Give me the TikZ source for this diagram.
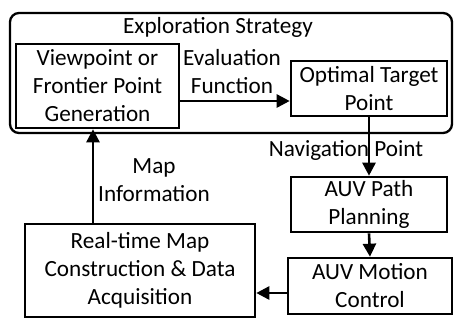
\documentclass[tikz,border=0pt]{standalone}
\usepackage{fontspec}
\setmainfont{Carlito}
\usetikzlibrary{arrows.meta}
\begin{document}
\begin{tikzpicture}[x=1pt,y=-1pt,
  every node/.style={font=\fontsize{23.2}{28}\selectfont, align=center, inner sep=0pt},
  box/.style={draw, line width=2.6pt},
  arr/.style={line width=2.6pt, -{Triangle[length=13pt,width=13pt]}},
  lbl/.style={}]
\useasboundingbox (0,0) rectangle (463,330);
\draw[line width=2.3pt, rounded corners=9pt] (10,13) rectangle (452,133);
\node[lbl] (es) at (218,27) {Exploration Strategy};
\node[box, minimum width=163pt, minimum height=84pt] (vp) at (97.5,86) {Viewpoint or\\Frontier Point\\Generation};
\node[box, minimum width=156pt, minimum height=55pt] (opt) at (369,88.5) {Optimal Target\\Point};
\node[box, minimum width=156pt, minimum height=55pt] (path) at (369,204.5) {AUV Path\\Planning};
\node[box, minimum width=164pt, minimum height=56pt] (mot) at (370,286) {AUV Motion\\Control};
\node[box, minimum width=230pt, minimum height=93pt] (real) at (140,270.5) {Real-time Map\\Construction \& Data\\Acquisition};
\node[lbl] (ef) at (232,72) {Evaluation\\Function};
\node[lbl] (np) at (346,150) {Navigation Point};
\node[lbl] (mi) at (154,180) {Map\\Information};
\draw[arr] (vp.east |- 0,101) -- (opt.west |- 0,101);
\draw[arr] (opt.south) -- (path.north);
\draw[arr] (path.south) -- (mot.north);
\draw[arr] (mot.west |- 0,293) -- (real.east |- 0,293);
\draw[arr] (real.north -| 93,0) -- (vp.south -| 93,0);
\end{tikzpicture}
\end{document}
